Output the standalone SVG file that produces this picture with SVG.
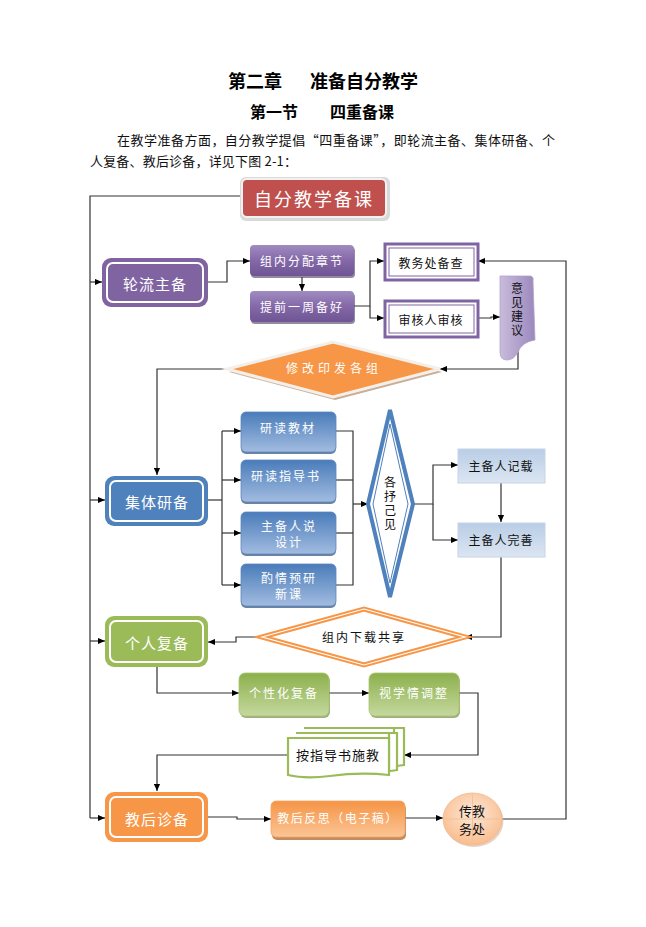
<svg xmlns="http://www.w3.org/2000/svg" width="646" height="927" viewBox="0 0 646 927">
<style>
text{font-family:"Noto Sans CJK SC","Noto Sans",sans-serif;}
.ttl{font-weight:bold;fill:#000;}
.para{font-size:13px;fill:#111;}
.wt{fill:#fff;text-anchor:middle;dominant-baseline:central;}
.bk{fill:#111;text-anchor:middle;dominant-baseline:central;}
.vert{writing-mode:vertical-rl;text-orientation:upright;}
.main{font-size:15px;letter-spacing:1px;}
.sub{font-size:12px;letter-spacing:2px;}
.edge{fill:none;stroke:#333;stroke-width:1.2;}
.arr{marker-end:url(#ah);}
.inner{fill:none;stroke:#fff;stroke-width:2;}
</style>
<defs>
<marker id="ah" viewBox="0 0 8 8" refX="8" refY="4" markerWidth="7" markerHeight="7" markerUnits="userSpaceOnUse" orient="auto">
<path d="M0,0.5 L8,4 L0,7.5 z" fill="#000"/>
</marker>
<linearGradient id="gPur" x1="0" y1="0" x2="0" y2="1"><stop offset="0" stop-color="#a08cc0"/><stop offset="0.5" stop-color="#8468a8"/><stop offset="1" stop-color="#6f5594"/></linearGradient>
<linearGradient id="gPurDoc" x1="0" y1="0" x2="1" y2="0"><stop offset="0" stop-color="#c8bcdc"/><stop offset="1" stop-color="#9c88bd"/></linearGradient>
<linearGradient id="gBlue" x1="0" y1="0" x2="0" y2="1"><stop offset="0" stop-color="#4a7cba"/><stop offset="1" stop-color="#a2bce0"/></linearGradient>
<linearGradient id="gLBlue" x1="0" y1="0" x2="0" y2="1"><stop offset="0" stop-color="#b9cde6"/><stop offset="1" stop-color="#dce6f2"/></linearGradient>
<linearGradient id="gGreen" x1="0" y1="0" x2="0" y2="1"><stop offset="0" stop-color="#8cb04c"/><stop offset="1" stop-color="#c5d89e"/></linearGradient>
<linearGradient id="gOr" x1="0" y1="0" x2="0" y2="1"><stop offset="0" stop-color="#f59445"/><stop offset="1" stop-color="#fbc596"/></linearGradient>
<radialGradient id="gPeach" cx="0.5" cy="0.4" r="0.6"><stop offset="0" stop-color="#fde9d9"/><stop offset="1" stop-color="#f9bd8e"/></radialGradient>
</defs>

<!-- Heading and paragraph -->
<g id="heading">
<text class="ttl" x="228" y="88" font-size="18">第二章</text>
<text class="ttl" x="310" y="88" font-size="18">准备自分教学</text>
<text class="ttl" x="250" y="118" font-size="16">第一节</text>
<text class="ttl" x="330" y="118" font-size="16">四重备课</text>
<text class="para" x="117" y="145" textLength="438" lengthAdjust="spacing">在教学准备方面，自分教学提倡“四重备课”，即轮流主备、集体研备、个</text>
<text class="para" x="90" y="166" textLength="207" lengthAdjust="spacing">人复备、教后诊备，详见下图 2-1：</text>
</g>

<!-- Connectors -->
<g id="connectors">
<path class="edge" d="M241,196 H90 V818"/>
<path class="edge arr" d="M90,282 H102"/>
<path class="edge arr" d="M90,500 H105"/>
<path class="edge arr" d="M90,641 H105"/>
<path class="edge arr" d="M90,818 H105"/>
<path class="edge arr" d="M208,282 H227 V261 H250"/>
<path class="edge arr" d="M302,277 V291"/>
<path class="edge arr" d="M354,306 H370 V261 H384"/>
<path class="edge arr" d="M370,306 V318 H384"/>
<path class="edge arr" d="M478,318 H491 V317 H500"/>
<path class="edge arr" d="M518,350 V369 H440"/>
<path class="edge arr" d="M502,819 H566 V261 H478"/>
<path class="edge arr" d="M227,369 H157 V475"/>
<path class="edge" d="M208,500 H222"/>
<path class="edge" d="M222,431 V585"/>
<path class="edge arr" d="M222,431 H241"/>
<path class="edge arr" d="M222,480 H241"/>
<path class="edge arr" d="M222,533 H241"/>
<path class="edge arr" d="M222,585 H241"/>
<path class="edge" d="M336,431 H353 V585 H336"/>
<path class="edge" d="M336,480 H353"/>
<path class="edge" d="M336,533 H353"/>
<path class="edge arr" d="M353,504 H368"/>
<path class="edge arr" d="M413,504 H433 V465 H458"/>
<path class="edge arr" d="M433,504 V540 H458"/>
<path class="edge arr" d="M501,483 V522"/>
<path class="edge arr" d="M501,557 V637 H465"/>
<path class="edge arr" d="M262,637 H236 V642 H208"/>
<path class="edge arr" d="M157,667 V693 H239"/>
<path class="edge arr" d="M329,693 H369"/>
<path class="edge arr" d="M459,693 H478 V755 H404"/>
<path class="edge arr" d="M288,755 H157 V791"/>
<path class="edge arr" d="M208,817 H237 V819 H271"/>
<path class="edge arr" d="M405,818 H443"/>
</g>

<!-- Top node -->
<g id="n-top">
<rect x="240" y="177" width="150" height="44" rx="6" fill="#d9d9d9"/>
<rect x="242" y="179" width="144" height="38" rx="5" fill="#c0504d" stroke="#f2f2f2" stroke-width="2"/>
<text class="wt" x="314" y="198" font-size="18" letter-spacing="2">自分教学备课</text>
</g>

<!-- 轮流主备 -->
<g id="n-lunliu">
<rect x="102" y="258" width="106" height="49" rx="9" fill="#8064a2"/>
<rect x="107" y="263" width="96" height="39" rx="6" class="inner"/>
<text class="wt main" x="155" y="283">轮流主备</text>
</g>
<g id="n-zunei">
<rect x="251" y="247" width="104" height="31" rx="4" fill="#4b3a63" opacity="0.6"/>
<rect x="250" y="245" width="104" height="31" rx="4" fill="url(#gPur)"/>
<text class="wt sub" x="302" y="260">组内分配章节</text>
</g>
<g id="n-tiqian">
<rect x="251" y="293" width="104" height="31" rx="4" fill="#4b3a63" opacity="0.6"/>
<rect x="250" y="291" width="104" height="31" rx="4" fill="url(#gPur)"/>
<text class="wt sub" x="302" y="306">提前一周备好</text>
</g>
<g id="n-jiaowu">
<rect x="385" y="244" width="93" height="36" fill="#fff" stroke="#8064a2" stroke-width="3"/>
<rect x="389" y="248" width="85" height="28" fill="none" stroke="#8064a2" stroke-width="1"/>
<text class="bk" x="431" y="262" font-size="12" letter-spacing="1">教务处备查</text>
</g>
<g id="n-shenhe">
<rect x="385" y="301" width="93" height="36" fill="#fff" stroke="#8064a2" stroke-width="3"/>
<rect x="389" y="305" width="85" height="28" fill="none" stroke="#8064a2" stroke-width="1"/>
<text class="bk" x="431" y="319" font-size="12" letter-spacing="1">审核人审核</text>
</g>
<g id="n-yijian">
<path d="M500,276 L531,276 Q534,277 533,281 L535,340 Q522,342 518,352 Q514,360 507,360 Q500,360 500,352 Z" fill="url(#gPurDoc)" stroke="#b0a3c8" stroke-width="0.8"/>
<text class="bk vert" x="517" y="310" font-size="12" letter-spacing="2">意见建议</text>
</g>

<!-- 修改印发各组 -->
<g id="n-xiugai">
<polygon points="229,372 335,345 442,372 335,400" fill="#b08a6c" opacity="0.7"/>
<polygon points="227,369 333,342 440,369 333,397" fill="#f79646" stroke="#f4efe9" stroke-width="3"/>
<text class="wt" x="334" y="367" font-size="12" letter-spacing="4">修改印发各组</text>
</g>

<!-- 集体研备 -->
<g id="n-jiti">
<rect x="105" y="476" width="103" height="50" rx="9" fill="#4f81bd"/>
<rect x="110" y="481" width="93" height="40" rx="6" class="inner"/>
<text class="wt main" x="157" y="501">集体研备</text>
</g>
<g id="n-yandu1">
<rect x="241" y="414" width="95" height="40" rx="5" fill="#2c4d77" opacity="0.7"/>
<rect x="241" y="412" width="95" height="40" rx="5" fill="url(#gBlue)" stroke="#5b86bf" stroke-width="0.8"/>
<text class="wt sub" x="288" y="427">研读教材</text>
</g>
<g id="n-yandu2">
<rect x="241" y="462" width="95" height="42" rx="5" fill="#2c4d77" opacity="0.7"/>
<rect x="241" y="460" width="95" height="42" rx="5" fill="url(#gBlue)" stroke="#5b86bf" stroke-width="0.8"/>
<text class="wt sub" x="286" y="475">研读指导书</text>
</g>
<g id="n-shuo">
<rect x="241" y="514" width="95" height="42" rx="5" fill="#2c4d77" opacity="0.7"/>
<rect x="241" y="512" width="95" height="42" rx="5" fill="url(#gBlue)" stroke="#5b86bf" stroke-width="0.8"/>
<text class="wt sub" x="289" y="525">主备人说</text>
<text class="wt sub" x="289" y="541">设计</text>
</g>
<g id="n-zhuoqing">
<rect x="241" y="566" width="95" height="42" rx="5" fill="#2c4d77" opacity="0.7"/>
<rect x="241" y="564" width="95" height="42" rx="5" fill="url(#gBlue)" stroke="#5b86bf" stroke-width="0.8"/>
<text class="wt sub" x="289" y="577">酌情预研</text>
<text class="wt sub" x="289" y="593">新课</text>
</g>
<g id="n-geshu">
<polygon points="390,410 413,504 390,597 368,504" fill="#fff" stroke="#4f81bd" stroke-width="4"/>
<polygon points="390,424 408,504 390,583 373,504" fill="none" stroke="#4f81bd" stroke-width="1"/>
<text class="bk vert" x="390" y="504" font-size="12" letter-spacing="2">各抒己见</text>
</g>
<g id="n-jizai">
<rect x="458" y="449" width="87" height="34" fill="url(#gLBlue)" stroke="#c5d4e8" stroke-width="1"/>
<text class="bk" x="501" y="465" font-size="12" letter-spacing="1">主备人记载</text>
</g>
<g id="n-wanshan">
<rect x="458" y="523" width="87" height="34" fill="url(#gLBlue)" stroke="#c5d4e8" stroke-width="1"/>
<text class="bk" x="501" y="539" font-size="12" letter-spacing="1">主备人完善</text>
</g>

<!-- 组内下载共享 -->
<g id="n-xiazai">
<polygon points="262,637 364,609 465,637 364,665" fill="#fff" stroke="#f79646" stroke-width="5"/>
<polygon points="262,637 364,609 465,637 364,665" fill="none" stroke="#fff" stroke-width="1.2"/>
<text class="bk" x="364" y="636" font-size="12" letter-spacing="2">组内下载共享</text>
</g>

<!-- 个人复备 -->
<g id="n-geren">
<rect x="105" y="616" width="103" height="51" rx="9" fill="#9bbb59"/>
<rect x="110" y="621" width="93" height="41" rx="6" class="inner"/>
<text class="wt main" x="157" y="642">个人复备</text>
</g>
<g id="n-gexing">
<rect x="240" y="675" width="90" height="43" rx="6" fill="#5d7a2c" opacity="0.6"/>
<rect x="239" y="673" width="90" height="43" rx="6" fill="url(#gGreen)" stroke="#a9c570" stroke-width="0.8"/>
<text class="wt sub" x="284" y="692">个性化复备</text>
</g>
<g id="n-shixue">
<rect x="370" y="675" width="90" height="43" rx="6" fill="#5d7a2c" opacity="0.6"/>
<rect x="369" y="673" width="90" height="43" rx="6" fill="url(#gGreen)" stroke="#a9c570" stroke-width="0.8"/>
<text class="wt sub" x="414" y="692">视学情调整</text>
</g>
<g id="n-anzhi">
<path d="M304,728 H404 V765 Q398,766 394,766 V728" fill="#fff" stroke="#9bbb59" stroke-width="2.2"/>
<path d="M296,733 H397 V770 Q392,771 389,771 V733" fill="#fff" stroke="#9bbb59" stroke-width="2.2"/>
<path d="M288,738 H389 V775 Q360,772 330,776 Q305,779 288,775 Z" fill="#fff" stroke="#9bbb59" stroke-width="2.2"/>
<text class="bk" x="338" y="754" font-size="13" letter-spacing="1">按指导书施教</text>
</g>

<!-- 教后诊备 -->
<g id="n-jiaohou">
<rect x="105" y="792" width="103" height="50" rx="9" fill="#f79646"/>
<rect x="110" y="797" width="93" height="40" rx="6" class="inner"/>
<text class="wt main" x="157" y="818">教后诊备</text>
</g>
<g id="n-fansi">
<rect x="272" y="804" width="134" height="36" rx="5" fill="#a85a1d" opacity="0.7"/>
<rect x="271" y="801" width="134" height="36" rx="5" fill="url(#gOr)" stroke="#f5a464" stroke-width="0.8"/>
<text class="wt" x="338" y="817" font-size="12" letter-spacing="1.5">教后反思（电子稿）</text>
</g>
<g id="n-chuan">
<ellipse cx="474" cy="821" rx="29.5" ry="26" fill="#d8b49a" opacity="0.6"/>
<ellipse cx="472.5" cy="819" rx="29.5" ry="26" fill="url(#gPeach)" stroke="#efb78d" stroke-width="0.8"/>
<path d="M443,819 H502 M472.5,793 V845" stroke="#f2c29c" stroke-width="1" fill="none"/>
<text class="bk" font-size="13"><tspan x="472" y="810">传教</tspan><tspan x="472" y="828">务处</tspan></text>
</g>
</svg>
